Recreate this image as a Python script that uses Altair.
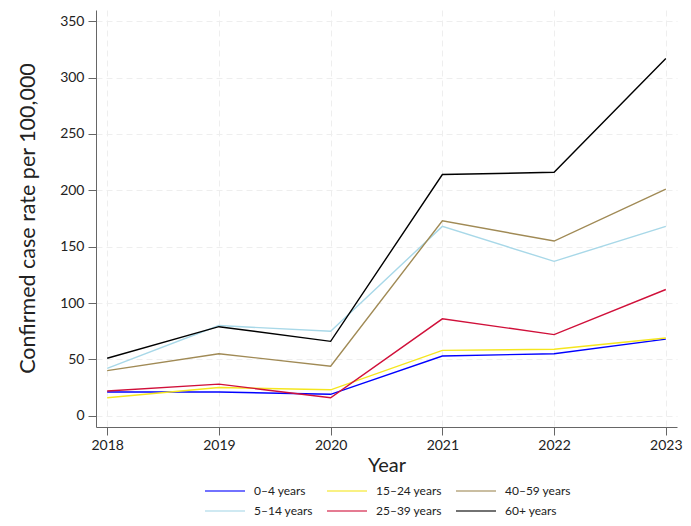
import altair as alt
import pandas as pd

years = [2018, 2019, 2020, 2021, 2022, 2023]
groups = ["0–4 years", "15–24 years", "40–59 years", "5–14 years", "25–39 years", "60+ years"]
colors = ["#0000ff", "#f5e61e", "#a08a55", "#a8d8e8", "#d0103a", "#000000"]

v_0_4 = [21, 21, 19, 53, 55, 68]
v_5_14 = [42, 80, 75, 168, 137, 168]
v_15_24 = [16, 25, 23, 58, 59, 69]
v_25_39 = [22, 28, 16, 86, 72, 112]
v_40_59 = [40, 55, 44, 173, 155, 201]
v_60 = [51, 79, 66, 214, 216, 317]

series = {
    "0–4 years": v_0_4,
    "5–14 years": v_5_14,
    "15–24 years": v_15_24,
    "25–39 years": v_25_39,
    "40–59 years": v_40_59,
    "60+ years": v_60,
}
rows = []
for g, vals in series.items():
    for y, v in zip(years, vals):
        rows.append({"Year": y, "Group": g, "Rate": v})
df = pd.DataFrame(rows)

FONT = "Lato"

chart = alt.Chart(df).mark_line(strokeWidth=1.4).encode(
    x=alt.X("Year:Q",
            scale=alt.Scale(domain=[2017.9, 2023.1], nice=False, zero=False),
            axis=alt.Axis(values=years, format="d", title="Year", titleFontSize=20,
                          titleFontWeight="normal", labelFontSize=14, tickSize=8,
                          labelPadding=3, titlePadding=3, labelFlush=False)),
    y=alt.Y("Rate:Q",
            scale=alt.Scale(domain=[-10, 360], nice=False, zero=False),
            axis=alt.Axis(values=[0, 50, 100, 150, 200, 250, 300, 350],
                          title="Confirmed case rate per 100,000", titleFontSize=21.5,
                          titleFontWeight="normal", labelFontSize=14, tickSize=8,
                          labelPadding=4, titleX=-57, titleY=208)),
    color=alt.Color("Group:N",
                    scale=alt.Scale(domain=groups, range=colors),
                    sort=groups,
                    legend=alt.Legend(title=None, orient="none", legendX=123, legendY=475,
                                      direction="horizontal", columns=3,
                                      symbolType="M-4,0H4", symbolSize=100,
                                      symbolStrokeWidth=2, labelFontSize=12,
                                      columnPadding=10, rowPadding=8, labelOffset=23,
                                      symbolOpacity=0.55)),
).properties(
    width=581, height=417,
    autosize=alt.AutoSizeParams(type="none"),
    padding={"left": 88, "top": 2, "right": 6, "bottom": 91},
).configure_view(stroke=None).configure_axis(
    labelFont=FONT, titleFont=FONT, labelColor="#222222", titleColor="#222222",
    domainColor="#666666", tickColor="#666666", gridColor="#eeeeee",
    gridDash=[6, 4], grid=True,
).configure_legend(labelFont=FONT, labelColor="#222222")

chart.save("out.html", embed_options={"renderer": "svg", "actions": False})
